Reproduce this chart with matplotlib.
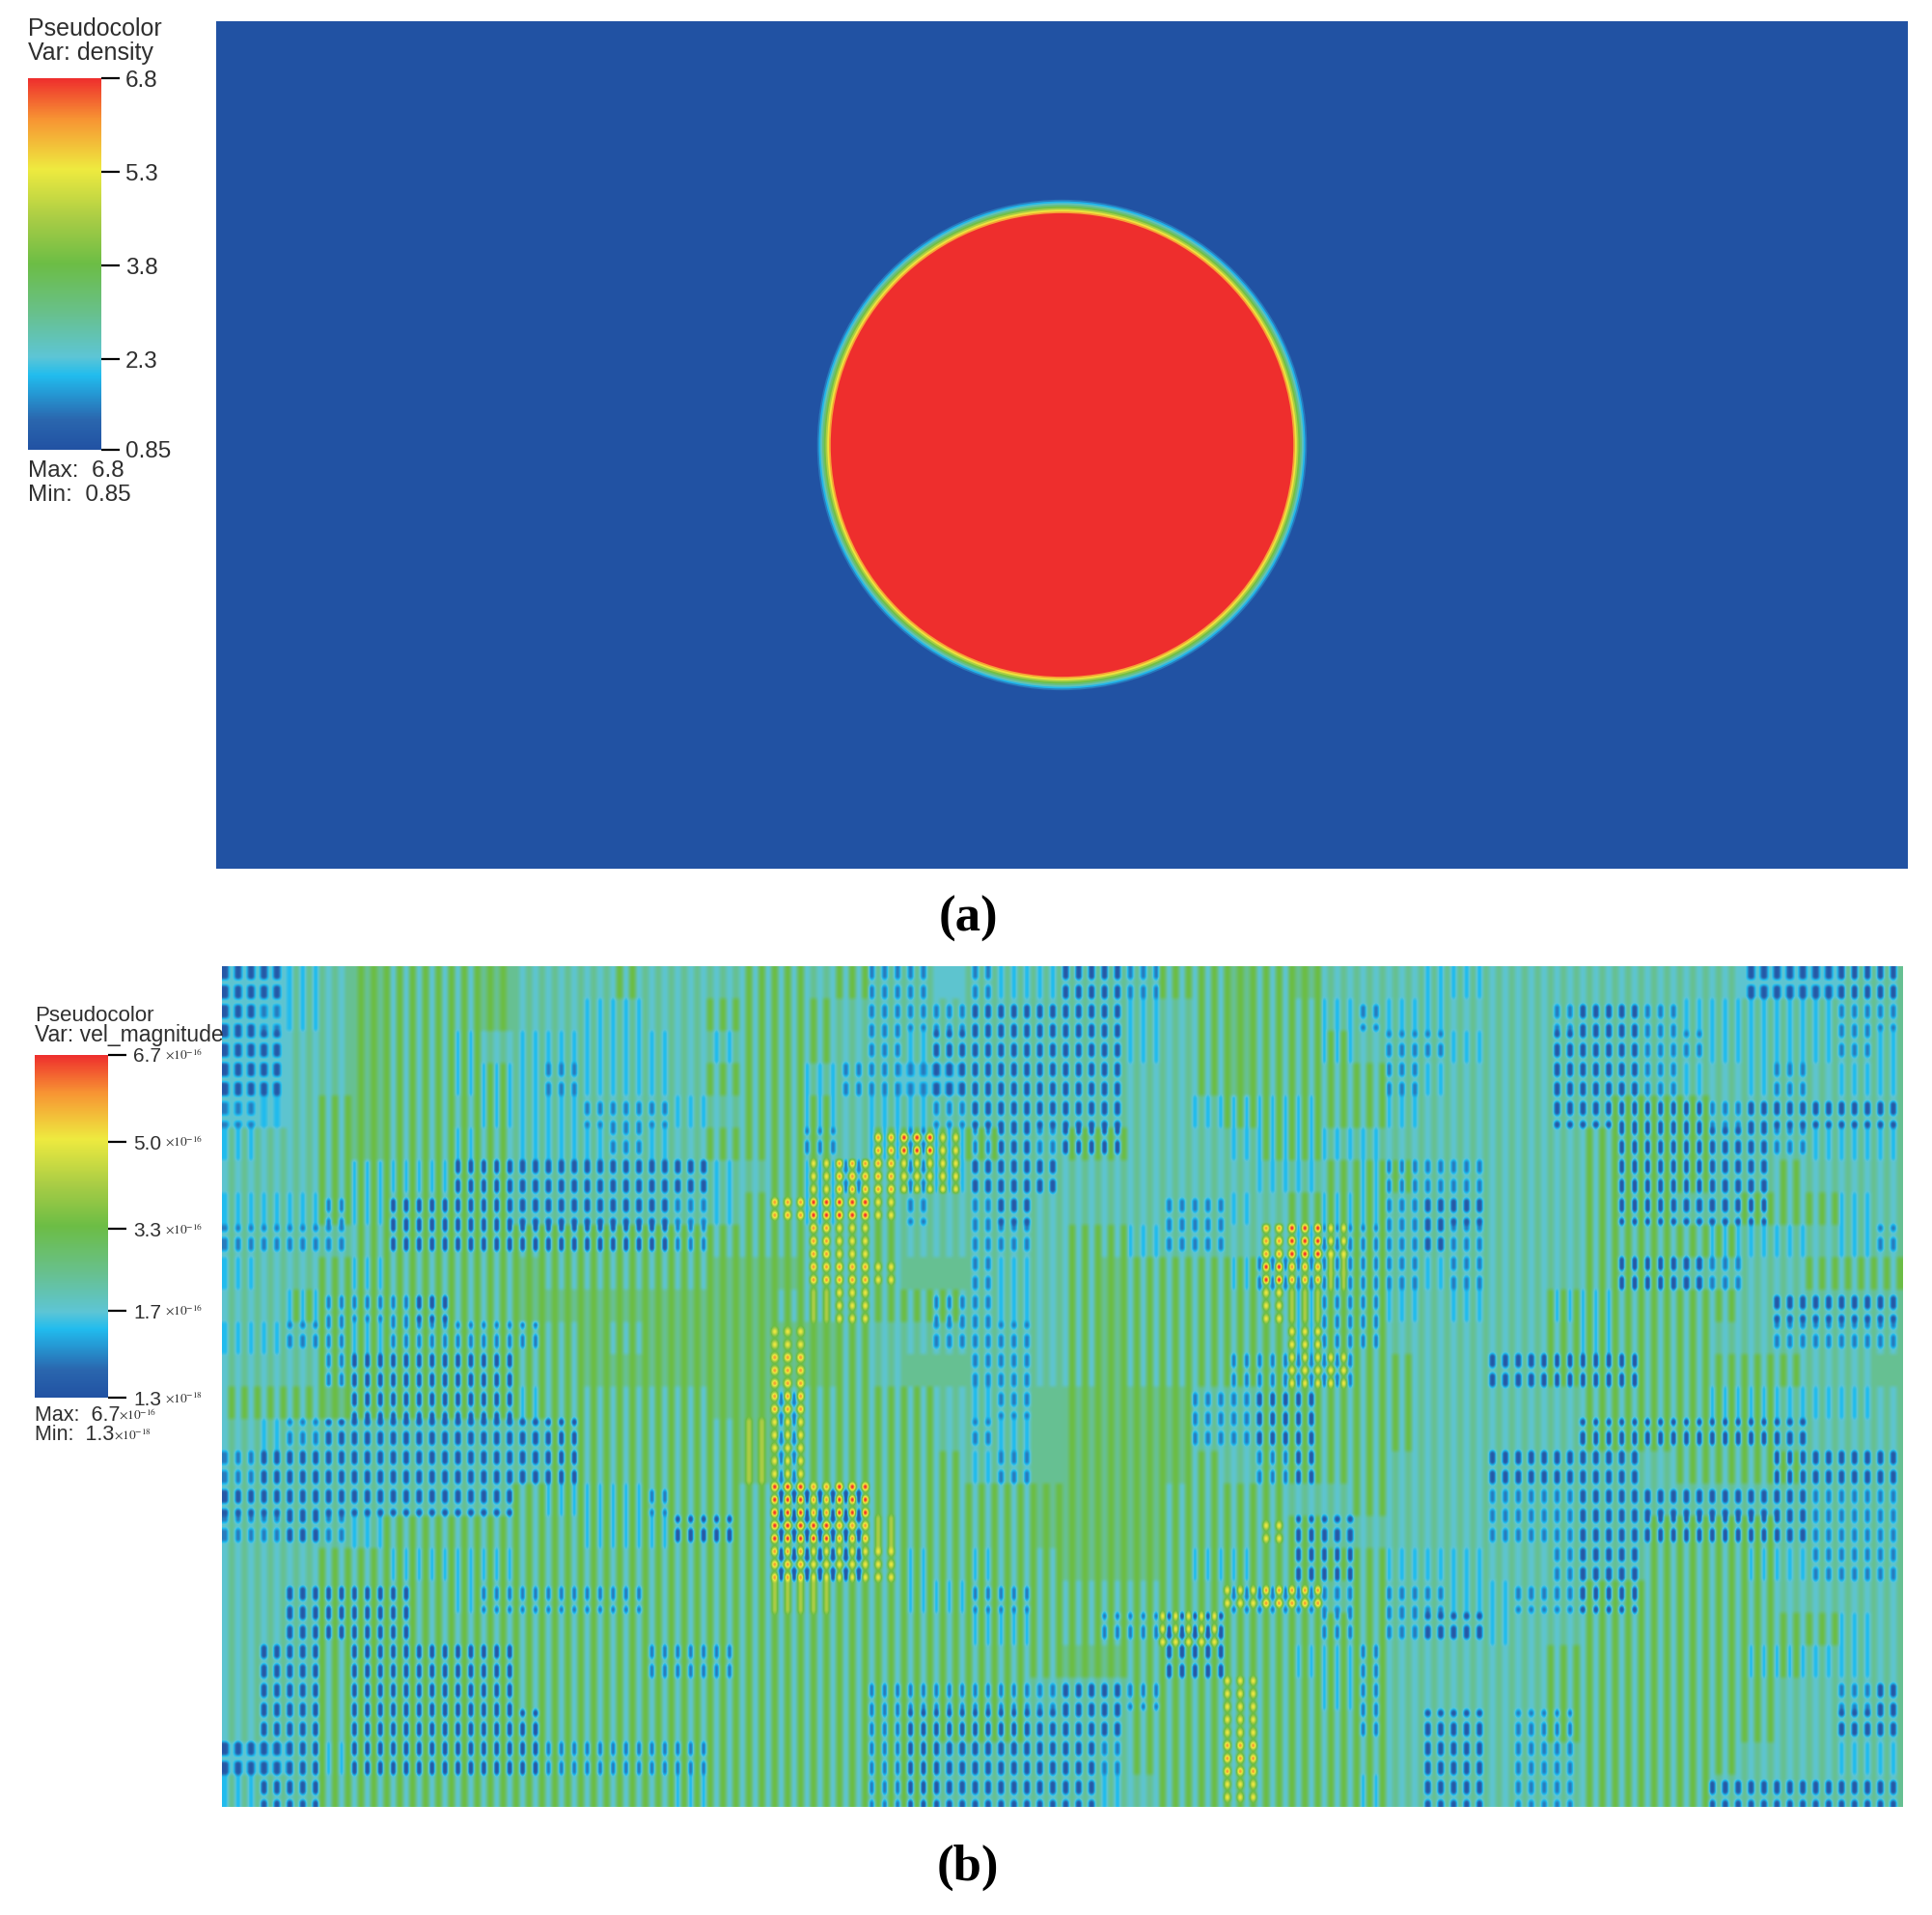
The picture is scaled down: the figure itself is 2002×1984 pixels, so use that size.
import numpy as np
import matplotlib
matplotlib.use("Agg")
import matplotlib.pyplot as plt
from matplotlib.colors import LinearSegmentedColormap, Normalize
from matplotlib.cm import ScalarMappable
from matplotlib.patches import Circle

plt.rcParams['font.family'] = ['Liberation Sans', 'DejaVu Sans']
plt.rcParams['mathtext.fontset'] = 'stix'

W, H = 2002, 1984
TEXT = "#2e2e2e"

# colour table
cmap_stops = [0.0, 0.08, 0.2, 0.25, 0.37, 0.5, 0.62, 0.755, 0.89, 1.0]
cmap_colors = ["#2152a3", "#2a66ae", "#21bcee", "#5dc5d5", "#68c08a",
               "#6cbd45", "#a8cc45", "#eeea3f", "#f79433", "#ee2e2d"]

# (a) density: radial profile across the disc edge, outermost first
density_min, density_max = 0.85, 6.8
density_ticks = [6.8, 5.3, 3.8, 2.3, 0.85]
density_labels = ["6.8", "5.3", "3.8", "2.3", "0.85"]
disc_center = (1.0, 0.5)
disc_radii = [0.2895, 0.2875, 0.2855, 0.2835, 0.2815, 0.2795, 0.2775, 0.2755, 0.2735]
disc_density = [1.5, 2.0, 2.6, 3.2, 3.9, 4.6, 5.4, 6.0, 6.8]

# (b) vel_magnitude, in units of 1e-16
vel_min, vel_max = 0.013, 6.7
vel_ticks = [6.7, 5.0, 3.3, 1.7, 0.013]
vel_labels = ["6.7", "5.0", "3.3", "1.7", "1.3"]
vel_exps = ["-16", "-16", "-16", "-16", "-18"]

# level code -> value, used by the two grids below
level_values = [0.2, 0.75, 1.35, 1.75, 2.4, 3.35, 4.2, 5.0, 5.85, 6.7]
gap_level = 3
hot_gap_level = 5

# The field alternates column by column, so it is read as two coarse grids
# estimated by eye: the lower valued columns and the higher valued ones.
low_columns = [
    "0023433343333 3333333113122 0013343433322 3333333300000",
    "0123433343322 3333333111000 0023343321223 3310012222211",
    "0033433232222 2323333120000 0023343323112 3300011222212",
    "0033433222122 2333321110000 0033343333123 3300012321322",
    "1233433322211 1233323221000 0033222233233 3300000100000",
    "2333433232221 2333313212101 0033322222333 3333000001222",
    "3333222000000 0023321312000 3333332232111 3333000003333",
    "2221200000000 0123323313103 3331123322100 3333000003323",
    "1111300000000 0133333333113 3321133211101 3333333222321",
    "2333233334333 3344433344123 3433321111121 3333000133333",
    "3321110334444 4444333331123 3433333211232 3322333330000",
    "2211211111343 4444443331113 3433333211333 3332333331111",
    "3331000003344 4444443344113 3433311113333 0000033333334",
    "3334000002333 3344133333214 4444110033333 3333333222223",
    "3210000000033 3334133333124 4444110033333 3330000000333",
    "1000000000033 3334133333214 4444331033333 0000033330000",
    "0000000003222 1333000333334 4443333333333 1110000000111",
    "1101233333322 2003000333334 4443333003333 1110000000111",
    "3333322223333 3333000323233 4443223003222 3310033322111",
    "3300003211111 3333333322113 3333311113112 2110033333333",
    "3300003333333 3333333333223 3110033313100 2333333333323",
    "3003000003333 1113333333333 4430033221333 3333333322223",
    "3003000003333 3333333111111 0013333321333 3333333333310",
    "3003000000333 3333333100000 0033333331300 3113333333300",
    "0002000000111 1133333100000 0133333333300 3113333333322",
    "2003333333333 3233333100000 0233333332300 3113333000000",
]
high_columns = [
    "3344555554445 4445545443444 4445555544444 4444444433344",
    "3344555554444 4455554444444 4444555544444 4444444444444",
    "3344555544444 4445554444444 4444555554444 4444444444444",
    "3344555554444 4455544433444 4444555555444 4444444444444",
    "3345555554444 4445554444444 4444455555444 4444555444444",
    "4445555554444 4455554897544 5544445544444 4445555444444",
    "4445555554444 4444578877444 4444444455544 4445555445444",
    "4445555554444 4445899744444 4444444555444 4445554455544",
    "4444555555555 5555587544444 5544448975444 4445555544444",
    "4445555555555 5555588744444 5555559865444 4445554444555",
    "4455555555555 5555567555444 5555557655444 4455555544444",
    "4445555555555 5555755444444 5555555755444 4455555444444",
    "4445555555555 5555855444444 5555555775544 4455555555444",
    "5555555555555 5555855554444 5555445555544 4445555554444",
    "4444444444555 5556755554444 5555445555544 4445555554444",
    "4444444444555 5556755555444 5555545555444 4444445555444",
    "4444444445555 5555989555555 5555555445444 4444444444444",
    "4444455555555 5555998655555 5555557544444 4444455554444",
    "4445555555555 5555877755555 5555555555444 4444455554444",
    "4445555555555 5555665555555 5555578845444 4445555554444",
    "4445555555555 5555555555555 5557755555444 4445555555544",
    "4445555555555 5555555555555 5555555555444 4455555555444",
    "4445555555555 5555555555554 4455575555444 4455555554444",
    "4445555555555 5555555555554 4455575555444 4455555554444",
    "3345555555555 5555555554444 4455585555444 4445555544444",
    "4445555555555 5555555554444 4445575555444 4445555444444",
]


def read_grid(rows):
    digits = [[int(c) for c in r.replace(" ", "")] for r in rows]
    return np.array(level_values)[np.array(digits)]


def px_axes(x0, y0, x1, y1):
    return fig.add_axes([x0 / W, 1 - y1 / H, (x1 - x0) / W, (y1 - y0) / H])


def px_text(x, y, s, **kw):
    kw.setdefault("color", TEXT)
    kw.setdefault("va", "center")
    fig.text(x / W, 1 - y / H, s, **kw)


cmap = LinearSegmentedColormap.from_list(
    "visit_hot", list(zip(cmap_stops, cmap_colors)), N=512)
fig = plt.figure(figsize=(W / 100, H / 100), dpi=100, facecolor="white")

# ---- panel (a)
norm_a = Normalize(density_min, density_max)
ax = px_axes(224, 22, 1977, 900)
ax.set_xlim(0, 2)
ax.set_ylim(0, 1)
ax.set_facecolor(cmap(norm_a(density_min)))
ax.set_xticks([])
ax.set_yticks([])
for s in ax.spines.values():
    s.set_visible(False)
for r, d in zip(disc_radii, disc_density):
    ax.add_patch(Circle(disc_center, r, fc=cmap(norm_a(d)), ec="none"))

cax = px_axes(29, 81, 105, 466)
cb = fig.colorbar(ScalarMappable(norm_a, cmap), cax=cax, ticks=density_ticks)
cb.set_ticklabels(density_labels)
cb.outline.set_visible(False)
cax.tick_params(length=14, width=1.6, pad=4, labelsize=17.5, labelcolor=TEXT)

px_text(29, 30, "Pseudocolor", fontsize=18)
px_text(29, 55, "Var: density", fontsize=18)
px_text(29, 488, "Max:  6.8", fontsize=17.5)
px_text(29, 513, "Min:  0.85", fontsize=17.5)
px_text(1003, 952, "(a)", fontsize=38, family="Liberation Serif",
        weight="bold", ha="center", color="black")

# ---- panel (b)
norm_b = Normalize(vel_min, vel_max)
low = read_grid(low_columns)
high = read_grid(high_columns)
fine_low = low.repeat(5, axis=0).repeat(5, axis=1)
fine_high = high.repeat(5, axis=0).repeat(5, axis=1)

# dark and hot columns are broken into dashes, not solid rods
dashed = fine_low[2::3]
dashed[dashed <= level_values[1]] = level_values[gap_level]
dashed = fine_high[1::2]
dashed[dashed >= level_values[7]] = level_values[hot_gap_level]

field = fine_low.copy()
field[:, 1::2] = fine_high[:, 1::2]

ax = px_axes(230, 1001, 1972, 1872)
ax.imshow(field, cmap=cmap, norm=norm_b, aspect="auto", interpolation="hanning")
ax.set_xticks([])
ax.set_yticks([])
for s in ax.spines.values():
    s.set_visible(False)

cax = px_axes(36, 1093, 112, 1448)
cb = fig.colorbar(ScalarMappable(norm_b, cmap), cax=cax, ticks=vel_ticks)
cb.set_ticklabels(vel_labels)
cb.outline.set_visible(False)
cax.tick_params(length=14, width=1.6, pad=5, labelsize=15, labelcolor=TEXT)

for v, e in zip(vel_ticks, vel_exps):
    y = 1448 - (v - vel_min) / (vel_max - vel_min) * 355
    px_text(171, y, r"$\times10^{%s}$" % e, fontsize=9.5)

px_text(36, 1053, "Pseudocolor", fontsize=16)
px_text(36, 1073, "Var: vel_magnitude", fontsize=16.5)
px_text(36, 1466, r"Max:  6.7", fontsize=15.5)
px_text(123, 1466, r"$\times10^{-16}$", fontsize=9.5)
px_text(36, 1486, r"Min:  1.3", fontsize=15.5)
px_text(118, 1486, r"$\times10^{-18}$", fontsize=9.5)
px_text(1003, 1935, "(b)", fontsize=38, family="Liberation Serif",
        weight="bold", ha="center", color="black")

fig.savefig("out.png", dpi=100)
